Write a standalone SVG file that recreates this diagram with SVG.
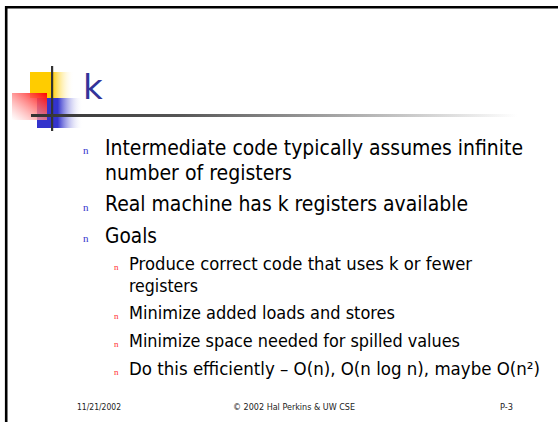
<svg xmlns="http://www.w3.org/2000/svg" width="558" height="422" viewBox="0 0 558 422">
<defs>
<linearGradient id="gy" x1="0" y1="0" x2="1" y2="0"><stop offset="0" stop-color="#ffcc00"/><stop offset="0.5" stop-color="#ffcc00"/><stop offset="1" stop-color="#ffffff" stop-opacity="0"/></linearGradient>
<linearGradient id="gb" x1="0" y1="0" x2="1" y2="0"><stop offset="0" stop-color="#3333cc"/><stop offset="0.45" stop-color="#3333cc"/><stop offset="1" stop-color="#ffffff" stop-opacity="0"/></linearGradient>
<linearGradient id="gr" x1="1" y1="0" x2="0" y2="1"><stop offset="0" stop-color="#ff0000"/><stop offset="1" stop-color="#ffffff" stop-opacity="0.6"/></linearGradient>
<linearGradient id="gl" x1="0" y1="0" x2="1" y2="0"><stop offset="0" stop-color="#333333"/><stop offset="0.3" stop-color="#555555"/><stop offset="1" stop-color="#ffffff"/></linearGradient>
</defs>
<style>
.t1{font-family:"DejaVu Sans Condensed","DejaVu Sans",sans-serif;font-size:20.5px;fill:#000}
.t2{font-family:"DejaVu Sans Condensed","DejaVu Sans",sans-serif;font-size:17.5px;fill:#000}
.b1{font-family:"Liberation Serif",serif;font-size:11px;fill:#3333cc}
.b2{font-family:"Liberation Serif",serif;font-size:9px;fill:#ff3333}
.ft{font-family:"DejaVu Sans Condensed","DejaVu Sans",sans-serif;font-size:9px;fill:#222}
</style>
<rect width="558" height="422" fill="#fff"/>
<g id="frame">
<line x1="6" y1="7.2" x2="558" y2="7.2" stroke="#000" stroke-width="2.6"/>
<line x1="6.2" y1="6" x2="6.2" y2="422" stroke="#000" stroke-width="2.6"/>
</g>
<g id="logo">
<rect x="30" y="72" width="44" height="26" fill="url(#gy)"/>
<rect x="37" y="98" width="46" height="30" fill="url(#gb)"/>
<rect x="12" y="93" width="35" height="27" fill="url(#gr)"/>
<rect x="51" y="66" width="2.2" height="65" fill="#333"/>
<rect x="31" y="114" width="486" height="3" fill="url(#gl)"/>
</g>
<g id="title">
<text x="83" y="99" style="font-family:'DejaVu Sans',sans-serif;font-size:34px;fill:#333399">k</text>
</g>
<g id="body">
<text class="b1" x="83" y="154">n</text>
<text class="t1" x="105" y="155" textLength="418" lengthAdjust="spacingAndGlyphs">Intermediate code typically assumes infinite</text>
<text class="t1" x="105" y="180" textLength="187" lengthAdjust="spacingAndGlyphs">number of registers</text>
<text class="b1" x="83" y="211">n</text>
<text class="t1" x="105" y="211" textLength="363" lengthAdjust="spacingAndGlyphs">Real machine has k registers available</text>
<text class="b1" x="83" y="242">n</text>
<text class="t1" x="105" y="242.5" textLength="52" lengthAdjust="spacingAndGlyphs">Goals</text>
<text class="b2" x="114" y="270">n</text>
<text class="t2" x="129" y="270" textLength="343" lengthAdjust="spacingAndGlyphs">Produce correct code that uses k or fewer</text>
<text class="t2" x="129" y="292" textLength="69" lengthAdjust="spacingAndGlyphs">registers</text>
<text class="b2" x="114" y="319">n</text>
<text class="t2" x="129" y="319" textLength="266" lengthAdjust="spacingAndGlyphs">Minimize added loads and stores</text>
<text class="b2" x="114" y="346.5">n</text>
<text class="t2" x="129" y="346.5" textLength="331" lengthAdjust="spacingAndGlyphs">Minimize space needed for spilled values</text>
<text class="b2" x="114" y="375">n</text>
<text class="t2" x="129" y="375" textLength="411" lengthAdjust="spacingAndGlyphs">Do this efficiently – O(n), O(n log n), maybe O(n²)</text>
</g>
<g id="footer">
<text class="ft" x="77" y="410" textLength="44" lengthAdjust="spacingAndGlyphs">11/21/2002</text>
<text class="ft" x="233" y="410" textLength="122" lengthAdjust="spacingAndGlyphs">© 2002 Hal Perkins &amp; UW CSE</text>
<text class="ft" x="500" y="410" textLength="13" lengthAdjust="spacingAndGlyphs">P-3</text>
</g>
</svg>
